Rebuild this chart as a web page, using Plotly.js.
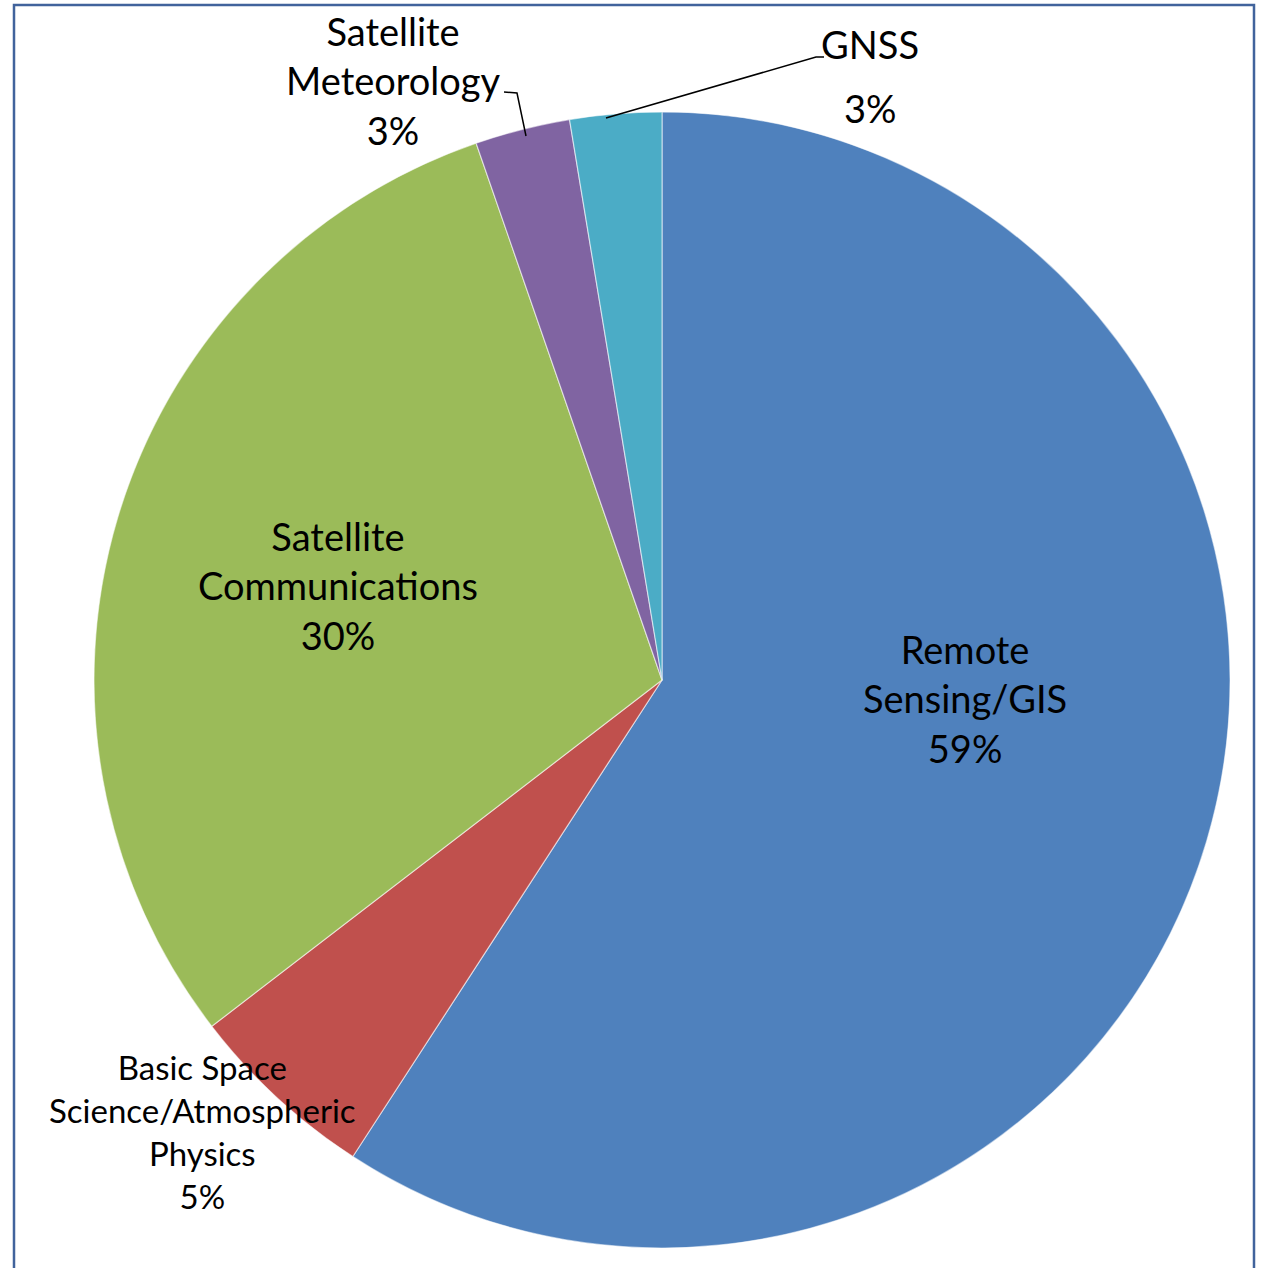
<!DOCTYPE html>
<html>
<head>
<meta charset="utf-8">
<script src="https://cdn.plot.ly/plotly-3.0.1.min.js"></script>
<style>html,body{margin:0;padding:0;background:#fff;}#chart{width:1266px;height:1268px;}</style>
</head>
<body>
<div id="chart"></div>
<script>
// Data (slice order clockwise from 12 o'clock)
var labels = ['Remote Sensing/GIS', 'Basic Space Science/Atmospheric Physics', 'Satellite Communications', 'Satellite Meteorology', 'GNSS'];
var labelLines = ['Remote<br>Sensing/GIS', 'Basic Space<br>Science/Atmospheric<br>Physics', 'Satellite<br>Communications', 'Satellite<br>Meteorology', 'GNSS'];
var values = [59.1, 5.4, 30.1, 2.7, 2.6];
var colors = ['#4F81BD', '#C0504D', '#9BBB59', '#8064A2', '#4BACC6'];

var W = 1266, H = 1268;
function px(x){ return x / W; }
function py(y){ return 1 - y / H; }

var total = values.reduce(function(a,b){return a+b;}, 0);
var pct = values.map(function(v){ return Math.round(v / total * 100) + '%'; });

var cx = 662, cy = 680, R = 568;
var trace = {
  type: 'pie',
  labels: labels,
  values: values,
  sort: false,
  direction: 'clockwise',
  rotation: 0,
  textinfo: 'none',
  hoverinfo: 'label+percent',
  showlegend: false,
  marker: { colors: colors, line: { color: 'rgba(255,255,255,0.55)', width: 1.2 } },
  domain: { x: [px(cx - R), px(cx + R)], y: [py(cy + R), py(cy - R)] }
};

var font = 'Lato, "Open Sans", sans-serif';
var big = 38, small = 33;
var place = [
  { x: 965, y: 698, size: big },
  { x: 202, y: 1131, size: small },
  { x: 338, y: 585, size: big },
  { x: 393, y: 80, size: big }
];
var annotations = [];
for (var i = 0; i < 4; i++) {
  annotations.push({
    xref: 'paper', yref: 'paper', x: px(place[i].x), y: py(place[i].y),
    xanchor: 'center', yanchor: 'middle', showarrow: false, align: 'center',
    text: labelLines[i] + '<br>' + pct[i],
    font: { family: font, size: place[i].size, color: '#000' }
  });
}
annotations.push({
  xref: 'paper', yref: 'paper', x: px(870), y: py(44), xanchor: 'center', yanchor: 'middle',
  showarrow: false, text: labelLines[4], font: { family: font, size: big, color: '#000' }
});
annotations.push({
  xref: 'paper', yref: 'paper', x: px(870), y: py(108), xanchor: 'center', yanchor: 'middle',
  showarrow: false, text: pct[4], font: { family: font, size: big, color: '#000' }
});

function pathPx(pts){
  return pts.map(function(p, k){ return (k ? 'L' : 'M') + px(p[0]) + ',' + py(p[1]); }).join(' ');
}

var shapes = [
  { type: 'rect', xref: 'paper', yref: 'paper', x0: px(14), x1: px(1254), y0: py(1290), y1: py(5),
    line: { color: '#41639c', width: 2.5 }, fillcolor: 'rgba(0,0,0,0)', layer: 'below' },
  { type: 'path', xref: 'paper', yref: 'paper', path: pathPx([[504, 92], [517, 93], [526, 136]]),
    line: { color: '#000', width: 1.5 } },
  { type: 'path', xref: 'paper', yref: 'paper', path: pathPx([[606, 118], [816, 57], [824, 57]]),
    line: { color: '#000', width: 1.5 } }
];

var layout = {
  width: W, height: H,
  margin: { l: 0, r: 0, t: 0, b: 0 },
  paper_bgcolor: '#fff', plot_bgcolor: '#fff',
  annotations: annotations,
  shapes: shapes
};
Plotly.newPlot('chart', [trace], layout, { displayModeBar: false, staticPlot: true });
</script>
</body>
</html>
